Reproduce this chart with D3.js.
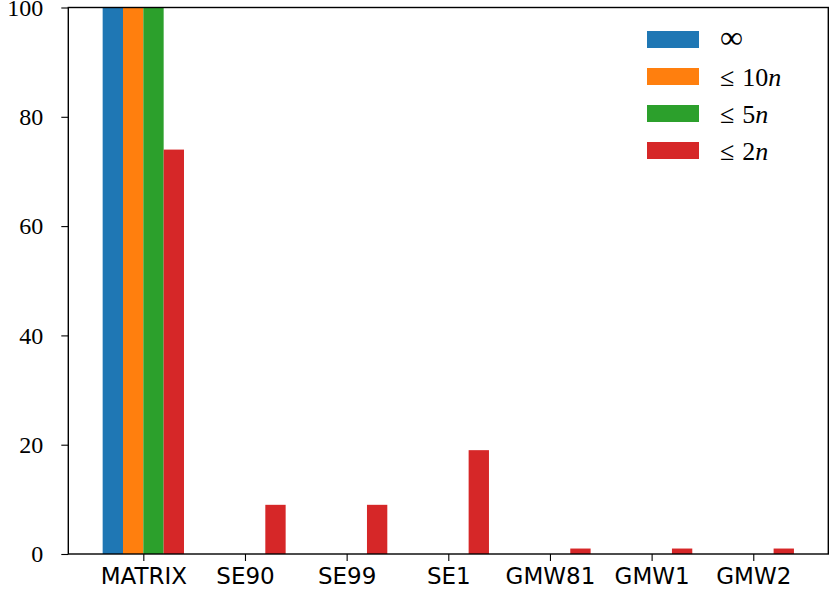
<!DOCTYPE html>
<html>
<head>
<meta charset="utf-8">
<script src="https://cdn.jsdelivr.net/npm/d3@7"></script>
<style>
  html, body { margin: 0; padding: 0; background: #fff; }
  svg { display: block; }
</style>
</head>
<body>
<svg id="chart" width="830" height="590"></svg>
<script>
const categories = ["MATRIX", "SE90", "SE99", "SE1", "GMW81", "GMW1", "GMW2"];
const seriesNames = ["inf", "le10n", "le5n", "le2n"];
const valuesInf   = [100, 0, 0, 0, 0, 0, 0];
const valuesLe10n = [100, 0, 0, 0, 0, 0, 0];
const valuesLe5n  = [100, 0, 0, 0, 0, 0, 0];
const valuesLe2n  = [74, 9, 9, 19, 1, 1, 1];
const yTicks = [0, 20, 40, 60, 80, 100];

const colors = ["#1f77b4", "#ff7f0e", "#2ca02c", "#d62728"];
const seriesValues = [valuesInf, valuesLe10n, valuesLe5n, valuesLe2n];

const svg = d3.select("#chart");
const L = 68.3, R = 828.3, T = 7.5, B = 554;

const x = d3.scaleLinear().domain([-0.738, categories.length - 1 + 0.738]).range([L, R]);
const y = d3.scaleLinear().domain([0, 100]).range([B, T]);
const barW = 0.2;

// bars
seriesValues.forEach((vals, si) => {
  svg.append("g").selectAll("rect")
    .data(vals.map((v, i) => ({v, i})).filter(d => d.v > 0))
    .join("rect")
    .attr("x", d => x(d.i + (si - 2) * barW))
    .attr("width", d => x(d.i + (si - 1) * barW) - x(d.i + (si - 2) * barW))
    .attr("y", d => y(d.v))
    .attr("height", d => y(0) - y(d.v))
    .attr("fill", colors[si]);
});

// axes
const xAxis = d3.axisBottom(x)
  .tickValues(categories.map((c, i) => i))
  .tickFormat(i => categories[i])
  .tickSize(7).tickPadding(7);
const gx = svg.append("g").attr("transform", `translate(0,${B})`).call(xAxis);
gx.select(".domain").remove();
gx.selectAll(".tick line").attr("stroke", "#000").attr("stroke-width", 1.1);
gx.selectAll(".tick text")
  .attr("font-family", "DejaVu Sans, sans-serif")
  .attr("font-size", 23)
  .attr("fill", "#000");

const yAxis = d3.axisLeft(y).tickValues(yTicks).tickFormat(d3.format("d")).tickSize(7).tickPadding(18);
const gy = svg.append("g").attr("transform", `translate(${L},0)`).call(yAxis);
gy.select(".domain").remove();
gy.selectAll(".tick line").attr("stroke", "#000").attr("stroke-width", 1.1);
gy.selectAll(".tick text")
  .attr("font-family", "Liberation Serif, serif")
  .style("font-family", "'Liberation Serif', serif")
  .attr("font-size", 24)
  .attr("fill", "#000");

// spines
svg.append("rect")
  .attr("x", L).attr("y", T)
  .attr("width", R - L).attr("height", B - T)
  .attr("fill", "none").attr("stroke", "#000").attr("stroke-width", 1.4);

// legend
const legendLabels = [
  [{t: "∞", i: false}],
  [{t: "≤", i: false}, {t: "10", i: false, dx: 8}, {t: "n", i: true}],
  [{t: "≤", i: false}, {t: "5", i: false, dx: 8}, {t: "n", i: true}],
  [{t: "≤", i: false}, {t: "2", i: false, dx: 8}, {t: "n", i: true}]
];
const lg = svg.append("g").attr("transform", "translate(647,31)");
legendLabels.forEach((parts, k) => {
  const row = lg.append("g").attr("transform", `translate(0,${k * 37})`);
  row.append("rect").attr("x", 0).attr("y", 0).attr("width", 52).attr("height", 17).attr("fill", colors[k]);
  const txt = row.append("text")
    .attr("x", 73).attr("y", k === 0 ? 17 : 18)
    .attr("font-family", "Liberation Serif, serif")
    .attr("font-size", k === 0 ? 32 : 26)
    .attr("fill", "#000");
  parts.forEach(p => {
    const ts = txt.append("tspan").text(p.t).attr("font-style", p.i ? "italic" : "normal");
    if (p.dx) ts.attr("dx", p.dx);
  });
});
</script>
</body>
</html>
